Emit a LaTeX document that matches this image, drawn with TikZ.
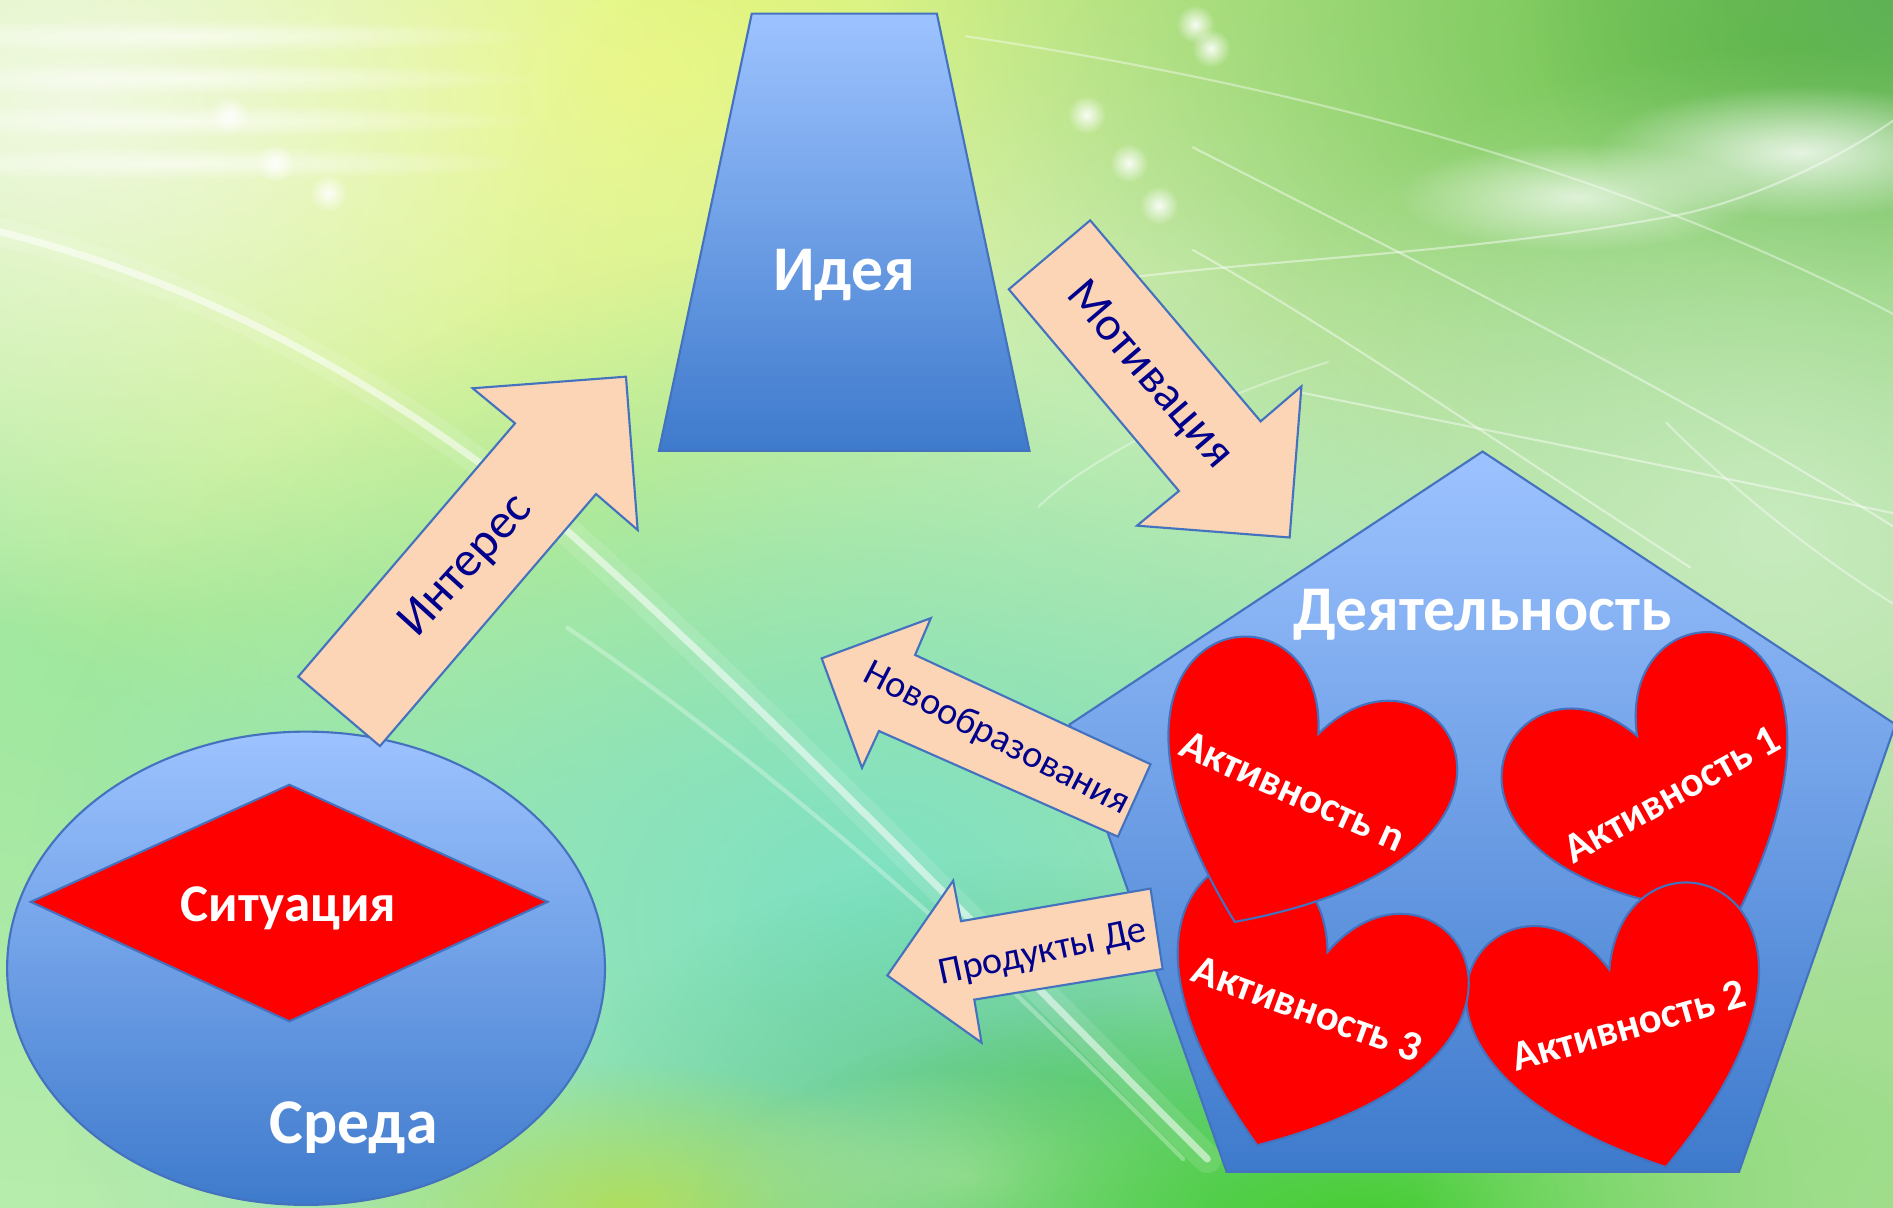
\documentclass[tikz,border=0pt]{standalone}
\usepackage{fontspec}
\setmainfont{Carlito}
\usetikzlibrary{fadings}
\definecolor{blueTop}{RGB}{157,195,255}
\definecolor{blueBot}{RGB}{62,122,204}
\definecolor{edgeBlue}{RGB}{68,114,190}
\definecolor{peach}{RGB}{251,213,181}
\definecolor{navy}{RGB}{0,0,140}
\definecolor{bgLeft}{RGB}{182,236,172}
\definecolor{bgRight}{RGB}{168,222,155}
\tikzfading[name=glow, inner color=transparent!0, outer color=transparent!100]
\begin{document}
\begin{tikzpicture}[x=0.012cm, y=-0.012cm,
  blueshape/.style={draw=edgeBlue, line width=0.6pt, top color=blueTop, bottom color=blueBot},
  redshape/.style={draw=edgeBlue, line width=0.6pt, fill=red},
  blockarrow/.style={draw=edgeBlue, line width=0.6pt, fill=peach},
  whitelabel/.style={text=white, font=\bfseries, inner sep=0pt},
  arrowlabel/.style={text=navy, inner sep=0pt},
  actlabel/.style={text=white, inner sep=0pt, font=\fontsize{12pt}{14pt}\selectfont\bfseries},
  streak/.style={white, line cap=round},
  heart/.pic={\path[redshape] (0,0) .. controls (50.8,-132.4) and (249.1,0) .. (0,170.3)
     .. controls (-249.1,0) and (-50.8,-132.4) .. (0,0) -- cycle;}
]
\useasboundingbox (0,0) rectangle (1568,1000);
% ---------- background ----------
\begin{scope}
\clip (0,0) rectangle (1568,1000);
\fill[left color=bgLeft, right color=bgRight] (0,0) rectangle (1568,1000);
\fill[color={rgb,255:red,160;green,232;blue,160}, path fading=glow] (60,560) ellipse (520 and 420);
\fill[color={rgb,255:red,232;green,248;blue,95}, path fading=glow] (540,70) ellipse (820 and 600);
\fill[color={rgb,255:red,245;green,250;blue,235}, path fading=glow, opacity=0.9] (60,80) ellipse (660 and 440);
\fill[color={rgb,255:red,222;green,243;blue,205}, path fading=glow, opacity=0.8] (980,230) ellipse (560 and 400);
\fill[color={rgb,255:red,105;green,192;blue,70}, path fading=glow] (1500,40) ellipse (780 and 460);
\fill[color={rgb,255:red,95;green,178;blue,85}, path fading=glow] (1568,0) ellipse (300 and 240);
\fill[color={rgb,255:red,200;green,235;blue,190}, path fading=glow] (1470,440) ellipse (500 and 400);
\fill[color={rgb,255:red,125;green,225;blue,195}, path fading=glow] (720,760) ellipse (700 and 560);
\fill[color={rgb,255:red,100;green,200;blue,140}, path fading=glow] (860,930) ellipse (400 and 220);
\fill[color={rgb,255:red,175;green,222;blue,95}, path fading=glow] (520,1000) ellipse (260 and 120);
\fill[color={rgb,255:red,210;green,235;blue,210}, path fading=glow, opacity=0.8] (800,975) ellipse (220 and 90);
\fill[color={rgb,255:red,70;green,205;blue,50}, path fading=glow] (1130,1010) ellipse (560 and 200);
\fill[color={rgb,255:red,160;green,222;blue,140}, path fading=glow] (1568,1000) ellipse (400 and 300);
% light ovals and dots
\fill[white, path fading=glow, opacity=0.8] (1491,126) ellipse (170 and 55);
\fill[white, path fading=glow, opacity=0.7] (1306,163) ellipse (150 and 45);
\foreach \p in {(190,95),(228,135),(272,160),(900,95),(935,135),(990,20),(1003,40),(960,170)}
  \fill[white, path fading=glow, opacity=0.9] \p circle (16);
\foreach \yy in {30,65,100,135}
  \fill[white, path fading=glow, opacity=0.6] (150,\yy) ellipse (300 and 14);
% streaks
\draw[streak, line width=8pt, opacity=0.12] (0,192) .. controls (150,230) and (300,300) .. (470,440)
   .. controls (650,600) and (820,780) .. (1000,960);
\draw[streak, line width=2pt, opacity=0.55] (0,192) .. controls (150,230) and (300,300) .. (470,440)
   .. controls (650,600) and (820,780) .. (1000,960);
\draw[streak, line width=1.2pt, opacity=0.3] (470,520) .. controls (560,580) and (700,690) .. (822,805)
   .. controls (880,860) and (930,910) .. (980,960);
\draw[streak, line width=0.6pt, opacity=0.45] (988,122) .. controls (1200,230) and (1400,330) .. (1568,436);
\draw[streak, line width=0.6pt, opacity=0.45] (988,207) .. controls (1100,270) and (1200,340) .. (1400,470);
\draw[streak, line width=0.6pt, opacity=0.45] (870,240) .. controls (1000,215) and (1200,215) .. (1395,177)
   .. controls (1470,160) and (1540,120) .. (1568,100);
\draw[streak, line width=0.6pt, opacity=0.45] (1077,325) .. controls (1250,360) and (1400,390) .. (1568,425);
\draw[streak, line width=0.6pt, opacity=0.4] (800,30) .. controls (1000,60) and (1300,120) .. (1568,260);
\draw[streak, line width=0.6pt, opacity=0.4] (1380,350) .. controls (1450,420) and (1520,470) .. (1568,500);
\draw[streak, line width=0.6pt, opacity=0.35] (860,420) .. controls (900,380) and (1000,330) .. (1100,300);
\end{scope}
% ---------- main shapes ----------
\path[blueshape] (622.7,11.3) -- (776,11.3) -- (852.7,373.3) -- (545.8,373.3) -- cycle;
\path[blueshape] (253.5,802) ellipse (247.6 and 196);
\path[redshape] (25.5,747) -- (239.7,650) -- (453.6,747) -- (239.7,846) -- cycle;
\path[blueshape] (1228,374) -- (1570,600) -- (1440.5,970.5) -- (1016,970.5) -- (886,600) -- cycle;
% hearts
\pic[rotate=29] at (1356,609.5) {heart};
\pic[rotate=16] at (1333,803) {heart};
\pic[rotate=-20] at (1099.6,788.6) {heart};
\pic[rotate=-24] at (1092,608) {heart};
% block arrows
\path[blockarrow] (247,560.5) -- (426.6,350.6) -- (391.5,321.6) -- (518.5,312) -- (528.2,439) -- (493.7,409.2) -- (314.7,618) -- cycle;
\path[blockarrow] (903,182.5) -- (1044.2,349) -- (1078,320) -- (1068.2,445.2) -- (941.8,435.4) -- (976.5,406.7) -- (835.6,239.6) -- cycle;
\path[blockarrow] (680.6,545.3) -- (771,512) -- (758,542.5) -- (953,633) -- (926,693) -- (728,605.5) -- (714,636) -- cycle;
\path[blockarrow] (735,808) -- (789.5,729.5) -- (796,763) -- (953,736) -- (963,802.6) -- (807,828) -- (813,863.6) -- cycle;
% ---------- texts ----------
\node[whitelabel, anchor=base, font=\fontsize{18pt}{21pt}\selectfont\bfseries] (idea) at (699.4,240.5) {Идея};
\node[whitelabel, anchor=base, font=\fontsize{18pt}{21pt}\selectfont\bfseries] (act) at (1228,522) {Деятельность};
\node[whitelabel, anchor=base, font=\fontsize{15pt}{17pt}\selectfont\bfseries] (sit) at (239,763) {Ситуация};
\node[whitelabel, anchor=base, font=\fontsize{18pt}{21pt}\selectfont\bfseries] (env) at (293,947) {Среда};
\node[actlabel, rotate=-24] (an) at (1070.9,655.1) {Активность n};
\node[actlabel, rotate=29] (a1) at (1384.6,657.7) {Активность 1};
\node[actlabel, rotate=-20] (a3) at (1083,835.5) {Активность 3};
\node[actlabel, rotate=16] (a2) at (1349,849.5) {Активность 2};
\node[arrowlabel, rotate=47.7, font=\fontsize{14pt}{16pt}\selectfont] (interest) at (386.5,469) {Интерес};
\node[arrowlabel, rotate=-49.4, font=\fontsize{13.5pt}{16pt}\selectfont] (motiv) at (951.4,311) {Мотивация};
\node[arrowlabel, rotate=-27.4, font=\fontsize{10.8pt}{13pt}\selectfont] (novo) at (825.5,612) {Новообразования};
\node[arrowlabel, rotate=12, font=\fontsize{10.8pt}{13pt}\selectfont] (prod) at (864.2,790) {Продукты Де};
\end{tikzpicture}
\end{document}
